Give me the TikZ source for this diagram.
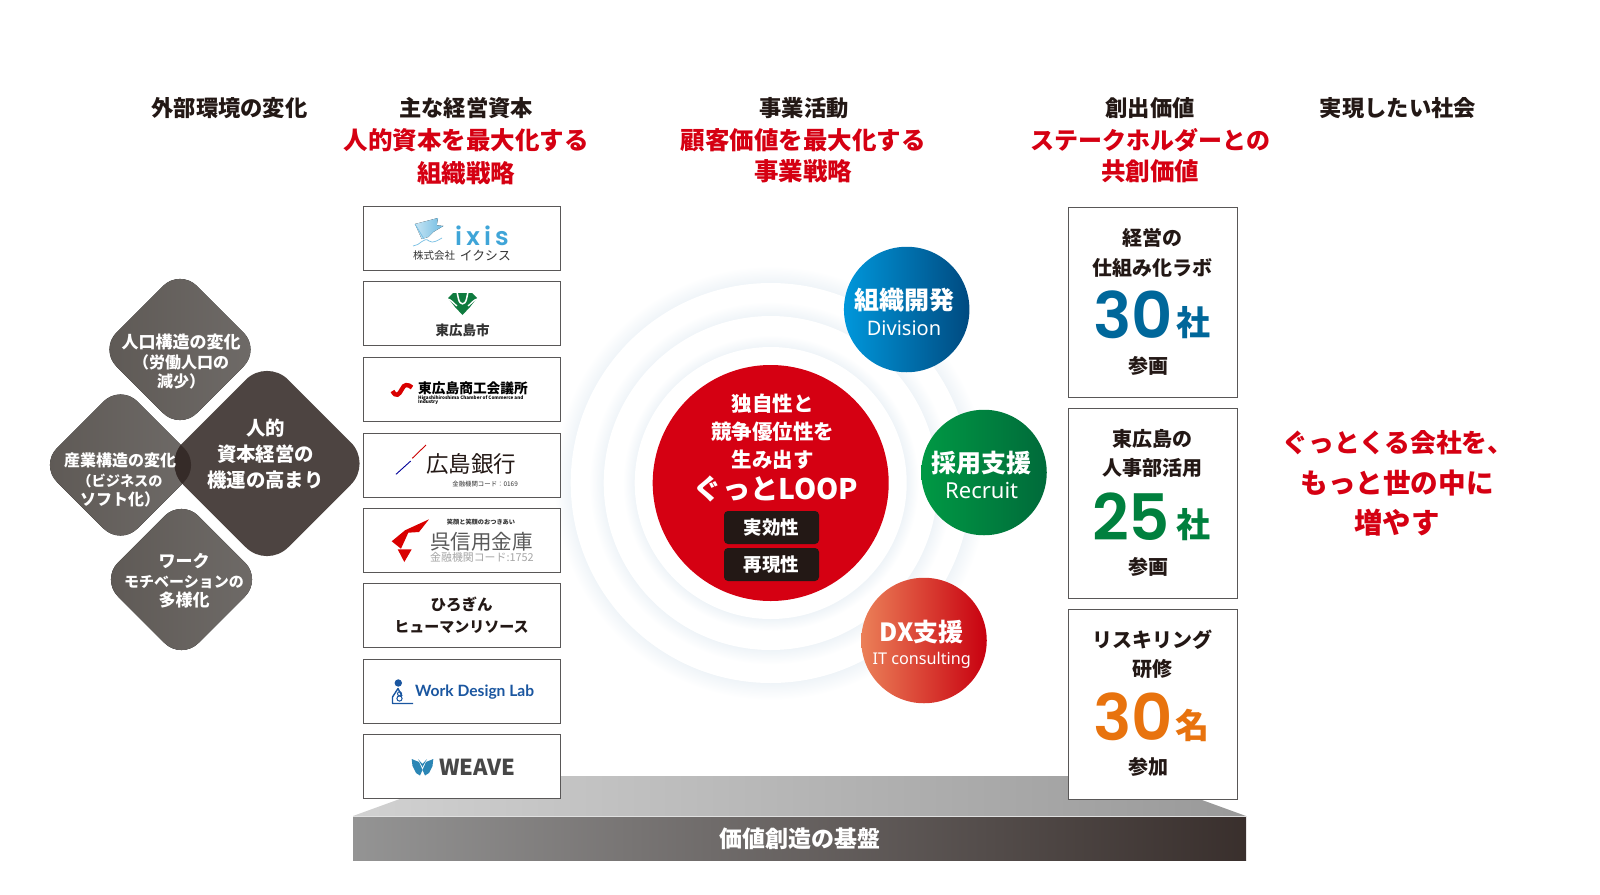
\documentclass[tikz,border=0pt]{standalone}
\usepackage{fontspec}
\setmainfont{Noto Sans CJK JP}
\newfontfamily\latinfont{Noto Sans}
\newfontfamily\digitfont{Poppins SemiBold}
\newfontfamily\wdlfont{Lato}
\usetikzlibrary{positioning}

\definecolor{inkdark}{HTML}{231815}
\definecolor{inkgray}{HTML}{333333}
\definecolor{loopred}{HTML}{D50012}
\definecolor{framegray}{HTML}{595757}
\definecolor{dmdlight}{HTML}{6F6B68}
\definecolor{dmdmid}{HTML}{5E5955}
\definecolor{dmdbig}{HTML}{4D4441}
\definecolor{dmdlap}{HTML}{352B28}
\definecolor{ixisblue}{HTML}{3FA5D8}
\definecolor{cityGreen}{HTML}{0F7B3F}
\definecolor{wdlblue}{HTML}{1A56A0}
\definecolor{weaveblue}{HTML}{2B86B5}
\definecolor{num1}{HTML}{00679A}
\definecolor{num2}{HTML}{00803E}
\definecolor{num3}{HTML}{E8730E}
\definecolor{ringA}{HTML}{EFF4F8}
\definecolor{divL}{HTML}{0097DB}
\definecolor{divR}{HTML}{004A80}
\definecolor{recL}{HTML}{009944}
\definecolor{recR}{HTML}{006A3A}
\definecolor{dxL}{HTML}{EB8058}
\definecolor{dxR}{HTML}{C8000F}

\pgfdeclareradialshading{ringglow}{\pgfpointorigin}{%
  color(0bp)=(ringA);
  color(23bp)=(ringA);
  color(25bp)=(white);
  color(50bp)=(white)}

\newcommand{\fsz}[2]{\fontsize{#1}{#2}\selectfont}
% rounded square standing on its corner
\newcommand{\dmdpath}[3]{(#1-#3/2,#2-#3/2) -- (#1,#2-#3) -- (#1+#3,#2) -- (#1,#2+#3) -- (#1-#3,#2) -- cycle}

\tikzset{
  headblack/.style={font=\fsz{22.3}{26}\bfseries, text=inkdark},
  headred/.style={font=\fsz{24.5}{28}\bfseries, text=loopred},
  logobox/.style={draw=framegray, line width=1pt, fill=white, minimum width=197, minimum height=64, inner sep=0},
  valuebox/.style={draw=framegray, line width=1pt, fill=white, minimum width=169, minimum height=190, inner sep=0},
  valtext/.style={font=\fsz{20}{29.5}\bfseries, text=inkdark, align=center, inner sep=0},
  bignum/.style={font=\digitfont\fsz{64}{64}, inner sep=0},
  unitchar/.style={font=\fsz{34}{34}\bfseries, inner sep=0},
  dmdtext/.style={font=\fsz{16}{19.5}\bfseries, text=white, align=center, inner sep=0},
  dmdsmall/.style={rounded corners=24, left color=dmdmid, right color=dmdlight},
  subcircle/.style={circle, minimum size=125.5, inner sep=0},
  subtitle/.style={font=\fsz{25}{30}\bfseries, text=white, inner sep=0},
  subenglish/.style={font=\latinfont\fsz{20}{24}, text=white, inner sep=0},
  tagbox/.style={fill=inkdark, rounded corners=4, minimum width=95, minimum height=33, inner sep=0, text=white, font=\fsz{18.5}{22}\bfseries},
  redtext/.style={font=\fsz{20.5}{28}\bfseries, text=white, align=center, inner sep=0},
  societytext/.style={text=loopred, inner sep=0}
}

\begin{document}
\begin{tikzpicture}[x=1pt, y=-1pt]

    \useasboundingbox (0,0) rectangle (1600,894);

    % rings behind the business circles
    \coordinate (ring) at (770.7,483);
    \shade[shading=ringglow] (ring) circle (217);
    \fill[white] (ring) circle (200);
    \shade[shading=ringglow] (ring) circle (181.5);
    \fill[white] (ring) circle (167);
    \shade[shading=ringglow] (ring) circle (148);
    \fill[white] (ring) circle (136);

    % headings
    \node[headblack] (headOuter) at (229.5,108) {外部環境の変化};
    \node[headblack] (headCapital) at (466,108) {主な経営資本};
    \node[headred] (redCapitalA) at (466,140.5) {人的資本を最大化する};
    \node[headred] (redCapitalB) at (466,173.5) {組織戦略};
    \node[headblack] (headBiz) at (804,108) {事業活動};
    \node[headred] (redBizA) at (803,140.5) {顧客価値を最大化する};
    \node[headred] (redBizB) at (803,171.5) {事業戦略};
    \node[headblack] (headValue) at (1150,108) {創出価値};
    \node[headred, font=\fsz{24}{28}\bfseries] (redValueA) at (1150.5,140.5) {ステークホルダーとの};
    \node[headred] (redValueB) at (1150,171.5) {共創価値};
    \node[headblack] (headSociety) at (1398,108) {実現したい社会};

    % diamonds on the left
    \fill[dmdsmall] \dmdpath{180}{349.5}{80.5};
    \fill[dmdsmall] \dmdpath{181.5}{579.5}{80.5};
    \fill[dmdsmall] \dmdpath{120.5}{465}{80.5};
    \fill[dmdbig, rounded corners=30] \dmdpath{267}{463.5}{105};
    \begin{scope}
        \clip[rounded corners=30] \dmdpath{267}{463.5}{105};
        \fill[dmdlap, rounded corners=24] \dmdpath{120.5}{465}{80.5};
    \end{scope}

    \node[dmdtext] (dmdTop) at (181,362) {\fsz{17}{20.5}人口構造の変化\\（労働人口の\\減少）};
    \node[dmdtext] (dmdLeft) at (120,480) {産業構造の変化\\\fsz{14.2}{19}（ビジネスの\\ソフト化）};
    \node[dmdtext] (dmdBottom) at (184,581) {\fsz{17}{20}ワーク\\\fsz{15}{20}モチベーションの\\\fsz{17}{20}多様化};
    \node[dmdtext, font=\fsz{19.4}{26}\bfseries] (dmdBig) at (265.5,454) {人的\\資本経営の\\機運の高まり};

    % base platform
    \shade[left color=black!18, right color=black!40] (353,816) -- (463,776) -- (1136,776) -- (1246,816) -- cycle;
    \node[minimum width=893, minimum height=44, inner sep=0, left color=black!42, middle color=black!65, right color=inkdark!90, text=white, font=\fsz{23}{28}\bfseries] (base) at (799.5,838.5) {\raisebox{-1.5pt}{価値創造の基盤}};
    \draw[black!12, line width=.8pt] (base.north west) -- (base.north east);

    % capital boxes
    \node[logobox] (boxIxis) at (461.5,238) {};
    \node[logobox] (boxCity) at (461.5,313.5) {};
    \node[logobox] (boxChamber) at (461.5,389) {};
    \node[logobox] (boxBank) at (461.5,465) {};
    \node[logobox] (boxKure) at (461.5,540) {};
    \node[logobox, font=\fsz{15}{22.5}\bfseries, text=inkdark, align=center] (boxHirogin) at (461.5,615.5) {\fsz{15.5}{22.5}ひろぎん\\ヒューマンリソース};
    \node[logobox] (boxWdl) at (461.5,691) {};
    \node[logobox] (boxWeave) at (461.5,766.5) {};

    % ixis
    \fill[left color=ixisblue!30, right color=ixisblue!75] (415,224) -- (438,218) -- (436.7,225.3) -- (443.3,226) -- (433.3,232) -- (428.3,237) -- (421.7,239) -- cycle;
    \draw[ixisblue!70, line width=.7pt] (415,224) -- (424,239);
    \draw[ixisblue!70, line width=.7pt] (413,246) .. controls (420,246) and (424,236) .. (429,241) .. controls (433,244) and (438,240) .. (442,238);
    \node[font=\digitfont\fsz{25}{25}, text=ixisblue, inner sep=0] (ixisName) at (482,235.5) {i\,x\,i\,s};
    \node[font=\fsz{10.5}{12}, text=inkgray, inner sep=0, anchor=west] (ixisKaisha) at (413,255.5) {株式会社};
    \node[font=\fsz{12.8}{14}, text=inkgray, inner sep=0, anchor=east] (ixisKana) at (511,255.5) {イクシス};

    % city of higashihiroshima
    \fill[cityGreen] (448,298) -- (453,293) -- (472,293) -- (477,298) -- (470,307) -- (462.5,315) -- (455,307) -- cycle;
    \draw[white, line width=1.5pt] (457,292) -- (458.5,299) .. controls (460,305.5) and (465,305.5) .. (466.5,299) -- (468,292);
    \draw[white, line width=1.3pt] (447,299) .. controls (451,299) and (453,303) .. (457,306);
    \draw[white, line width=1.3pt] (478,299) .. controls (474,299) and (472,303) .. (468,306);
    \node[font=\fsz{13.5}{16}\bfseries, text=inkgray, inner sep=0] (cityName) at (462.5,330.5) {東広島市};

    % chamber of commerce
    \draw[red!85!black, line width=4.4pt] (392.5,391) .. controls (396,397.5) and (399,395) .. (402,389) .. controls (404,384) and (408,384) .. (412,387.5);
    \node[font=\fsz{13.7}{16}\bfseries, text=black, inner sep=0, anchor=west] (chamberName) at (418,388) {東広島商工会議所};
    \node[font=\fsz{4.6}{4.8}\bfseries, text=black, inner sep=0, anchor=north west, align=left] (chamberEn) at (418,395) {Higashihiroshima Chamber of Commerce and\\Industry};

    % hiroshima bank
    \draw[red!80!black, line width=.9pt] (412.3,458.3) -- (426,445);
    \draw[blue!60!black, line width=.9pt] (396,474.3) -- (410.7,461);
    \node[font=\fsz{22.5}{26}, text=inkdark, inner sep=0, anchor=west] (bankName) at (426,464) {広島銀行};
    \node[font=\fsz{6.4}{8}, text=inkgray, inner sep=0, anchor=east] (bankCode) at (518,484) {金融機関コード：0169};

    % kure shinkin
    \fill[red!85!black] (429,519.3) -- (419,532) -- (408.3,532.7) -- (401,548.7) -- (391.7,541.3) -- (405,530.3) -- cycle;
    \fill[red!85!black] (397.7,549.3) -- (411.7,549.3) -- (404.3,562) -- cycle;
    \node[font=\fsz{6.2}{8}\bfseries, text=inkgray, inner sep=0] (kureMotto) at (481,522) {笑顔と笑顔のおつきあい};
    \node[font=\fsz{20.5}{24}, text=black!65, inner sep=0, anchor=west] (kureName) at (430,541.5) {呉信用金庫};
    \node[font=\fsz{10.9}{14}, text=black!35, inner sep=0, anchor=west] (kureCode) at (430,557.5) {金融機関コード:1752};

    % work design lab
    \fill[wdlblue] (398.3,683) circle (3.7);
    \draw[wdlblue, line width=1.4pt, line join=round] (413,703.5) -- (392.5,703.5) -- (392.5,697) -- (398,688.5) -- (402,696);
    \draw[wdlblue, line width=1pt] (399.5,693.7) circle (2);
    \draw[wdlblue, line width=1pt] (399.5,698.5) circle (2.6);
    \node[font=\wdlfont\fsz{15.6}{20}\bfseries, text=wdlblue, inner sep=0, anchor=west] (wdlName) at (415,692) {Work Design Lab};

    % weave
    \fill[weaveblue] (411.7,759) -- (419,762) -- (422.5,770) -- (420,775.5) -- (416,773) -- (412.5,766) -- cycle;
    \fill[weaveblue] (433.3,759) -- (426,762) -- (422.5,770) -- (425,775.5) -- (429,773) -- (432.5,766) -- cycle;
    \fill[weaveblue] (418,759) -- (422.5,764) -- (427,759) -- (422.5,767) -- cycle;
    \node[font=\fsz{22}{24}\bfseries, text=inkgray!90, inner sep=0, anchor=west] (weaveName) at (439,767) {WEAVE};

    % main circle
    \node[circle, fill=loopred, minimum size=236, inner sep=0] (loopCore) at (770.7,483) {};
    \node[redtext] (loopText) at (772.5,431.5) {独自性と\\競争優位性を\\生み出す};
    \node[font=\fsz{28.3}{34}\bfseries, text=white, inner sep=0] (loopName) at (776,489) {ぐっとLOOP};
    \node[tagbox] (tagEffect) at (771.5,527.5) {実効性};
    \node[tagbox] (tagRepeat) at (771.5,564.5) {再現性};

    % business circles
    \node[subcircle, left color=divL, right color=divR] (circDiv) at (906.7,309.5) {};
    \node[subtitle] (divTitle) at (904,300) {組織開発};
    \node[subenglish] (divEnglish) at (904,328) {Division};
    \node[subcircle, left color=recL, right color=recR] (circRec) at (984,472.5) {};
    \node[subtitle] (recTitle) at (981.7,462.7) {採用支援};
    \node[subenglish, font=\latinfont\fsz{22}{26}] (recEnglish) at (981.7,490) {Recruit};
    \node[subcircle, left color=dxL, right color=dxR] (circDx) at (924,640.5) {};
    \node[subtitle] (dxTitle) at (921.7,631.7) {DX支援};
    \node[subenglish, font=\latinfont\fsz{16.2}{22}] (dxEnglish) at (921.7,660) {IT consulting};

    % value boxes
    \node[valuebox] (valueA) at (1152.5,302) {};
    \node[valtext] (valueAtop) at (1152,253) {経営の\\仕組み化ラボ};
    \node[bignum, text=num1] (numA) at (1133,315) {30};
    \node[unitchar, text=num1] (unitA) at (1193.7,323) {社};
    \node[valtext] (valueAend) at (1148,366) {参画};

    \node[valuebox] (valueB) at (1152.5,503) {};
    \node[valtext] (valueBtop) at (1152.5,453.5) {東広島の\\人事部活用};
    \node[bignum, text=num2] (numB) at (1131,516.7) {25};
    \node[unitchar, text=num2] (unitB) at (1193,525) {社};
    \node[valtext] (valueBend) at (1148,567) {参画};

    \node[valuebox] (valueC) at (1152.5,704) {};
    \node[valtext] (valueCtop) at (1152.5,654.5) {リスキリング\\研修};
    \node[bignum, text=num3] (numC) at (1133,717) {30};
    \node[unitchar, text=num3] (unitC) at (1192,725) {名};
    \node[valtext] (valueCend) at (1148,767) {参加};

    % wanted society
    \node[societytext, font=\fsz{25.8}{30}\bfseries] (societyA) at (1398,442.5) {ぐっとくる会社を、};
    \node[societytext, font=\fsz{27.6}{32}\bfseries] (societyB) at (1397,483) {もっと世の中に};
    \node[societytext, font=\fsz{28.4}{32}\bfseries] (societyC) at (1397,523) {増やす};

\end{tikzpicture}
\end{document}
